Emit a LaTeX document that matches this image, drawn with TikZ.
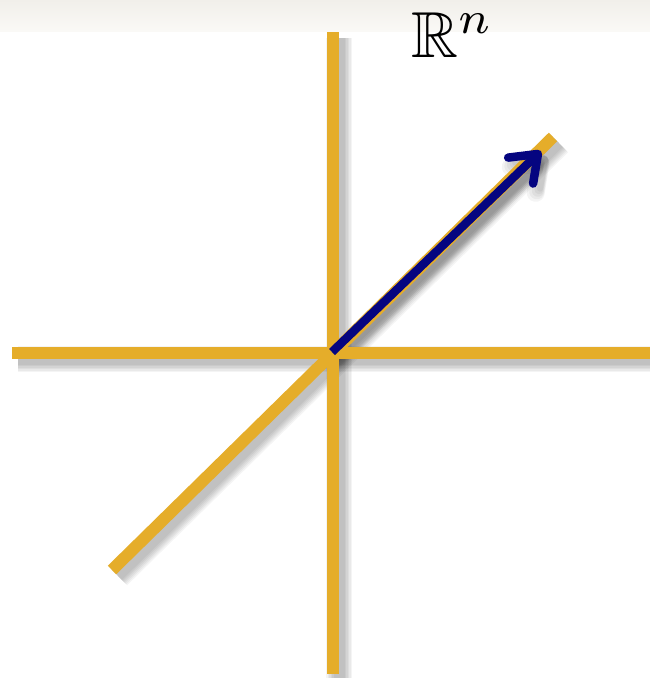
\documentclass[tikz,border=0pt]{standalone}
\usepackage{amssymb}
\usepackage{graphicx}
\usetikzlibrary{arrows.meta}
\definecolor{axisgold}{RGB}{229,173,42}
\definecolor{vecblue}{RGB}{5,5,128}
\definecolor{bandtop}{RGB}{241,239,234}
\definecolor{bandbot}{RGB}{250,249,246}
\tikzset{
  axis/.style={draw=axisgold, line width=12pt, line cap=butt},
  shadowline/.style={draw=black, opacity=0.045, line cap=butt},
  vec/.style={draw=vecblue, line width=8.5pt, line cap=butt,
    -{Straight Barb[length=24pt, width=36pt, round]}},
}
\begin{document}
\begin{tikzpicture}[x=1pt, y=-1pt]
\useasboundingbox (0,0) rectangle (650,678);
\fill[white] (0,0) rectangle (650,678);
\shade[top color=bandtop, bottom color=bandbot] (0,0) rectangle (650,31);
% coordinates
\coordinate (O) at (333,353);
\coordinate (XL) at (12,353);
\coordinate (XR) at (652,353);
\coordinate (YT) at (333,32);
\coordinate (YB) at (333,674);
\coordinate (DL) at (112,570);
\coordinate (DR) at (553,137);
\coordinate (VS) at (332,352);
\coordinate (VT) at (541,151);
% shadows
\foreach \w in {26,23,20,17,14,11} {
  \draw[shadowline, line width=\w pt] ([shift={(6,6)}]XL) -- ([shift={(6,6)}]XR);
  \draw[shadowline, line width=\w pt] ([shift={(6,6)}]YT) -- ([shift={(6,6)}]YB);
  \draw[shadowline, line width=\w pt] ([shift={(6,6)}]DL) -- ([shift={(6,6)}]DR);
}
\foreach \w in {18,15,12,9,6} {
  \draw[draw=black, opacity=0.045, line width=\w pt, line cap=round, line join=round,
    -{Straight Barb[length=24pt, width=36pt, round]}] ([shift={(6,6)}]VS) -- ([shift={(6,6)}]VT);
}
% axes
\draw[axis] (XL) -- (XR);
\draw[axis] (YT) -- (YB);
\draw[axis] (DL) -- (DR);
% vector
\draw[vec] (VS) -- (VT);
% label
\node[anchor=base west, inner sep=0pt] (lbl) at (411,57) {\scalebox{6.5}{$\mathbb{R}^n$}};
\end{tikzpicture}
\end{document}
